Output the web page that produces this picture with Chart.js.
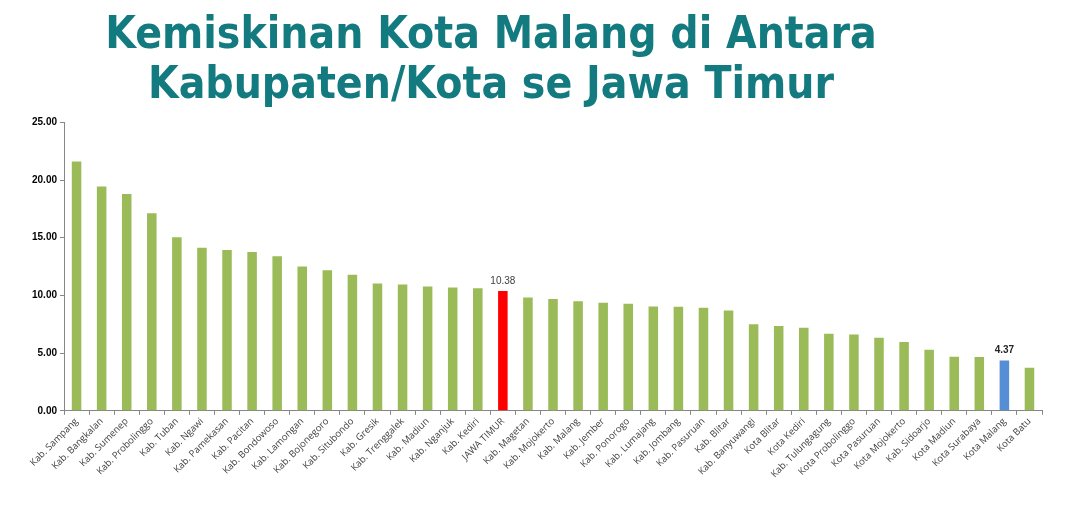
<!DOCTYPE html>
<html>
<head>
<meta charset="utf-8">
<script src="https://cdn.jsdelivr.net/npm/chart.js@4"></script>
<style>
  html, body { margin: 0; padding: 0; background: #ffffff; }
  #wrap { width: 1080px; height: 530px; position: relative; }
</style>
</head>
<body>
<div id="wrap"><canvas id="c" width="1080" height="530"></canvas></div>
<script>
const titleLines = ["Kemiskinan Kota Malang di Antara", "Kabupaten/Kota se Jawa Timur"];

const categories = [
  "Kab. Sampang", "Kab. Bangkalan", "Kab. Sumenep", "Kab. Probolinggo", "Kab. Tuban",
  "Kab. Ngawi", "Kab. Pamekasan", "Kab. Pacitan", "Kab. Bondowoso", "Kab. Lamongan",
  "Kab. Bojonegoro", "Kab. Situbondo", "Kab. Gresik", "Kab. Trenggalek", "Kab. Madiun",
  "Kab. Nganjuk", "Kab. Kediri", "JAWA TIMUR", "Kab. Magetan", "Kab. Mojokerto",
  "Kab. Malang", "Kab. Jember", "Kab. Ponorogo", "Kab. Lumajang", "Kab. Jombang",
  "Kab. Pasuruan", "Kab. Blitar", "Kab. Banyuwangi", "Kota Blitar", "Kota Kediri",
  "Kab. Tulungagung", "Kota Probolinggo", "Kota Pasuruan", "Kota Mojokerto", "Kab. Sidoarjo",
  "Kota Madiun", "Kota Surabaya", "Kota Malang", "Kota Batu"
];

const povertyRate = [
  21.60, 19.44, 18.78, 17.11, 15.03,
  14.14, 13.94, 13.77, 13.39, 12.50,
  12.18, 11.78, 11.03, 10.94, 10.77,
  10.69, 10.63, 10.38, 9.82, 9.68,
  9.50, 9.36, 9.27, 9.04, 9.01,
  8.93, 8.70, 7.49, 7.34, 7.20,
  6.68, 6.62, 6.34, 5.96, 5.30,
  4.69, 4.67, 4.37, 3.74
];

const yTicks = [0, 5, 10, 15, 20, 25];

const provinceName = "JAWA TIMUR";
const focusCity = "Kota Malang";
const labelledCategories = [provinceName, focusCity];

const GREEN = "#9bbb59";
const RED = "#ff0000";
const BLUE = "#558ed5";

const barColors = categories.map(c => c === provinceName ? RED : (c === focusCity ? BLUE : GREEN));

const titleShift = {
  id: "titleShift",
  afterLayout(chart) {
    const tb = chart.titleBlock;
    if (tb) { tb.left = 0; tb.right = 982; }
  }
};

const valueLabels = {
  id: "valueLabels",
  afterDatasetsDraw(chart) {
    const ctx = chart.ctx;
    const meta = chart.getDatasetMeta(0);
    ctx.save();
    ctx.textAlign = "center";
    ctx.textBaseline = "bottom";
    labelledCategories.forEach(name => {
      const i = categories.indexOf(name);
      const el = meta.data[i];
      if (name === focusCity) {
        ctx.font = "bold 10px 'Liberation Sans', Arial, sans-serif";
        ctx.fillStyle = "#262626";
      } else {
        ctx.font = "10px 'Liberation Sans', Arial, sans-serif";
        ctx.fillStyle = "#404040";
      }
      ctx.fillText(povertyRate[i].toFixed(2), el.x, el.y - 5);
    });
    ctx.restore();
  }
};

new Chart(document.getElementById("c"), {
  type: "bar",
  data: {
    labels: categories,
    datasets: [{
      data: povertyRate,
      backgroundColor: barColors,
      borderWidth: 0,
      categoryPercentage: 1.0,
      barPercentage: 0.38
    }]
  },
  options: {
    responsive: false,
    animation: false,
    devicePixelRatio: 1,
    layout: { padding: { left: 29, right: 38, top: 0, bottom: 49 } },
    plugins: {
      legend: { display: false },
      tooltip: { enabled: false },
      title: {
        display: true,
        text: titleLines,
        color: "#137b80",
        align: "center",
        font: { family: "'DejaVu Sans Condensed', 'DejaVu Sans', sans-serif", size: 44, weight: "bold", lineHeight: 1.14 },
        padding: { top: 11, bottom: 11 }
      }
    },
    scales: {
      x: {
        grid: { display: true, drawOnChartArea: false, drawTicks: true, tickLength: 4, color: "#868686", offset: true },
        border: { display: true, color: "#868686", width: 1 },
        ticks: {
          autoSkip: false,
          minRotation: 45,
          maxRotation: 45,
          padding: 1,
          color: "#404040",
          font: { family: "'Open Sans', sans-serif", size: 9.5 }
        }
      },
      y: {
        min: 0,
        max: 25,
        afterBuildTicks(axis) { axis.ticks = yTicks.map(v => ({ value: v })); },
        grid: { display: true, drawOnChartArea: false, drawTicks: true, tickLength: 4, color: "#868686" },
        border: { display: true, color: "#868686", width: 1 },
        ticks: {
          padding: 3,
          color: "#000000",
          font: { family: "'Liberation Sans', Arial, sans-serif", size: 10, weight: "bold" },
          callback: v => Number(v).toFixed(2)
        }
      }
    }
  },
  plugins: [titleShift, valueLabels]
});
</script>
</body>
</html>
